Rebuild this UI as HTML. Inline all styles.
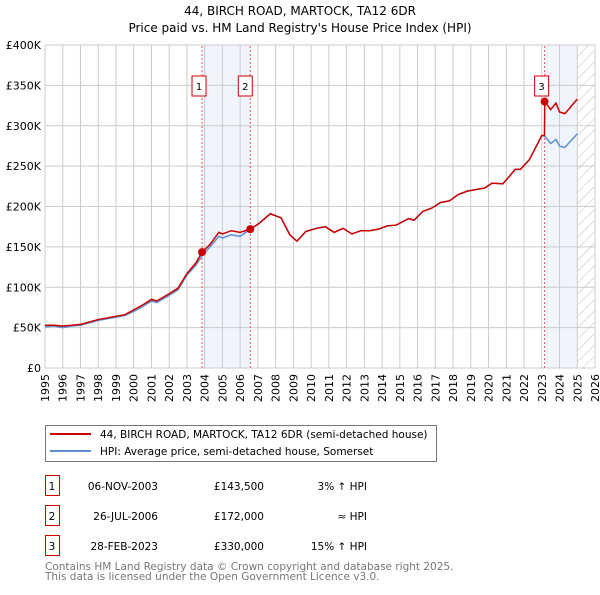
<!DOCTYPE html>
<html><head><meta charset="utf-8"><style>
body{margin:0;background:#fff;font-family:"Liberation Sans","DejaVu Sans",sans-serif;}
svg text{font-family:"DejaVu Sans","Liberation Sans",sans-serif;}
</style></head><body>
<svg width="600" height="590" xmlns="http://www.w3.org/2000/svg">
<defs><pattern id="hatch" width="8" height="8" patternUnits="userSpaceOnUse" patternTransform="rotate(45)"><line x1="0" y1="0" x2="0" y2="8" stroke="#bbb" stroke-width="1"/></pattern></defs>
<text x="300" y="15" font-size="12" text-anchor="middle">44, BIRCH ROAD, MARTOCK, TA12 6DR</text>
<text x="300" y="32" font-size="12" text-anchor="middle">Price paid vs. HM Land Registry's House Price Index (HPI)</text>
<g id="plot"></g>
<g>
<rect x="45.5" y="425.5" width="391" height="36" fill="#fff" stroke="#777"/>
<line x1="50" y1="434" x2="91" y2="434" stroke="#cc0000" stroke-width="2"/>
<text x="100" y="438" font-size="10.5">44, BIRCH ROAD, MARTOCK, TA12 6DR (semi-detached house)</text>
<line x1="50" y1="451" x2="91" y2="451" stroke="#5b8fd0" stroke-width="2"/>
<text x="100" y="455" font-size="10.5">HPI: Average price, semi-detached house, Somerset</text>
</g>
<g font-size="10.5">
<rect x="45.5" y="475.5" width="14" height="20" fill="#fff" stroke="#cc0000"/><text x="52" y="490" text-anchor="middle">1</text>
<text x="158" y="490" text-anchor="end">06-NOV-2003</text><text x="264" y="490" text-anchor="end">£143,500</text><text x="367" y="490" text-anchor="end">3% ↑ HPI</text>
<rect x="45.5" y="505.5" width="14" height="20" fill="#fff" stroke="#cc0000"/><text x="52" y="520" text-anchor="middle">2</text>
<text x="158" y="520" text-anchor="end">26-JUL-2006</text><text x="264" y="520" text-anchor="end">£172,000</text><text x="367" y="520" text-anchor="end">≈ HPI</text>
<rect x="45.5" y="535.5" width="14" height="20" fill="#fff" stroke="#cc0000"/><text x="52" y="550" text-anchor="middle">3</text>
<text x="158" y="550" text-anchor="end">28-FEB-2023</text><text x="264" y="550" text-anchor="end">£330,000</text><text x="367" y="550" text-anchor="end">15% ↑ HPI</text>
</g>
<text x="45" y="570" font-size="10.5" fill="#777">Contains HM Land Registry data © Crown copyright and database right 2025.</text>
<text x="45" y="580" font-size="10.5" fill="#777">This data is licensed under the Open Government Licence v3.0.</text>
</svg>
<script>
const years=[1995,1995.5,1996,1996.5,1997,1997.5,1998,1998.5,1999,1999.5,2000,2000.5,2001,2001.3,2002,2002.5,2003,2003.5,2003.85,2004.3,2004.8,2005,2005.5,2006,2006.57,2007,2007.7,2008.3,2008.8,2009.2,2009.7,2010.3,2010.8,2011.3,2011.8,2012.3,2012.8,2013.3,2013.8,2014.3,2014.8,2015.5,2015.8,2016.3,2016.8,2017.3,2017.8,2018.3,2018.8,2019.3,2019.8,2020.2,2020.8,2021.2,2021.5,2021.8,2022.3,2022.7,2023.0,2023.15,2023.17,2023.5,2023.8,2024.0,2024.3,2024.5,2025.0];
const hpi=[51,52,50,52,53,56,59,61,63,65,70,76,83,81,90,97,115,127,139,150,163,161,165,163,172,178,191,186,165,157,169,173,175,168,173,166,170,170,172,176,177,185,183,194,198,205,207,215,219,221,223,229,228,238,246,246,258,275,288,287,287,278,283,275,273,278,290];
const paid=[53,53,52,53,54,57,60,62,64,66,72,78,85,83,92,99,117,130,143.5,153,168,166,170,168,172,178,191,186,165,157,169,173,175,168,173,166,170,170,172,176,177,185,183,194,198,205,207,215,219,221,223,229,228,238,246,246,258,275,288,288,330,320,328,317,315,320,333];
const saleYears=[2003.85,2006.57,2023.16];
const salePrices=[143.5,172,330];
const yTicks=[0,50,100,150,200,250,300,350,400];
const xTicks=[1995,1996,1997,1998,1999,2000,2001,2002,2003,2004,2005,2006,2007,2008,2009,2010,2011,2012,2013,2014,2015,2016,2017,2018,2019,2020,2021,2022,2023,2024,2025,2026];
const X=y=>45+(y-1995)*(550/31), Y=v=>368-v*(323/400);
const NS="http://www.w3.org/2000/svg", g=document.getElementById('plot');
function mk(t,a,p){const e=document.createElementNS(NS,t);for(const k in a)e.setAttribute(k,a[k]);(p||g).appendChild(e);return e;}
let e;
e=mk('rect',{x:X(2003.85),y:Y(400),width:X(2006.57)-X(2003.85),height:Y(0)-Y(400),fill:'#f0f4fc'});


e=mk('rect',{x:X(2023.16),y:Y(400),width:X(2025)-X(2023.16),height:Y(0)-Y(400),fill:'#f0f4fc'});


e=mk('rect',{x:X(2025),y:Y(400),width:X(2026)-X(2025),height:Y(0)-Y(400),fill:'url(#hatch)'});


xTicks.forEach(t=>{
 e=mk('line',{x1:X(t),x2:X(t),y1:Y(0),y2:Y(400),stroke:'#ccc'});
 
 
 e=mk('text',{x:0,y:0,'font-size':11,'text-anchor':'end',transform:`translate(${X(t)+4},${Y(0)+6}) rotate(-90)`});
 e.textContent=t;
 
 
});
yTicks.forEach(t=>{
 e=mk('line',{x1:X(1995),x2:X(2026),y1:Y(t),y2:Y(t),stroke:'#ccc'});
 
 
 e=mk('text',{x:X(1995)-4,y:Y(t)+4,'font-size':11,'text-anchor':'end'});
 e.textContent=t===0?'£0':'£'+t+'K';
 
 
});
saleYears.forEach((s,i)=>{
 e=mk('line',{x1:X(s),x2:X(s),y1:Y(0),y2:Y(400),stroke:'#e55',"stroke-dasharray":'2,2'});
 
 
});
e=mk('polyline',{points:years.map((y,i)=>X(y)+','+Y(hpi[i])).join(' '),fill:'none',stroke:'#5b8fd0','stroke-width':1.5});


e=mk('polyline',{points:years.map((y,i)=>X(y)+','+Y(paid[i])).join(' '),fill:'none',stroke:'#cc0000','stroke-width':1.5});


saleYears.forEach((s,i)=>{
 e=mk('circle',{cx:X(s),cy:Y(salePrices[i]),r:4,fill:'#cc0000'});
 
 
 const bx=X(s)-10-(i===1?2:0);
 e=mk('rect',{x:bx,y:Y(400)+31,width:14,height:20,fill:'#fff',stroke:'#cc0000'});
 
 
 e=mk('text',{x:bx+7,y:Y(400)+45,'font-size':10,'text-anchor':'middle'});
 e.textContent=i+1;
 
 
});
</script>
</body></html>
